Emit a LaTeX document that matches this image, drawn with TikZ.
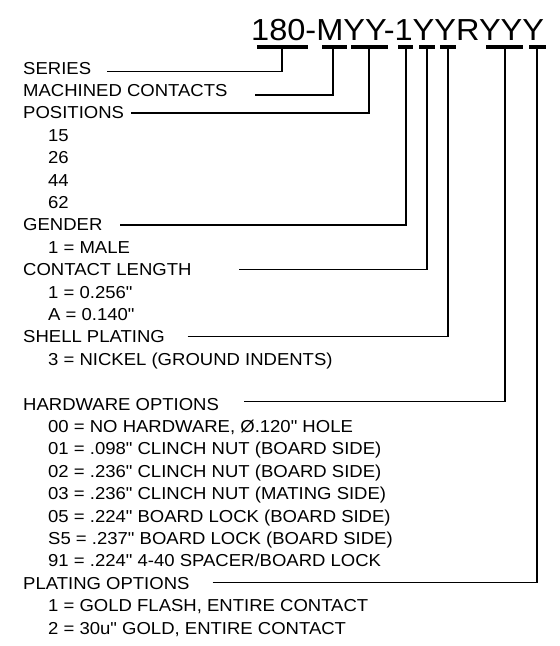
\documentclass[tikz,border=0pt]{standalone}
\usepackage{fontspec}
\newfontfamily\lib{Liberation Sans}[FakeStretch=1.07]
\begin{document}
\begin{tikzpicture}[x=1pt,y=-1pt,
  lbl/.style={anchor=base west, inner sep=0pt, font=\lib\fontsize{17.3}{19}\selectfont},
  ttl/.style={anchor=base west, inner sep=0pt, font=\lib\fontsize{30.4}{32}\selectfont},
  bar/.style={line width=3.2pt},
  conn/.style={line width=1.6pt, line join=miter}]
\useasboundingbox (0,0) rectangle (560,646);
% title
\node[ttl] (title) at (251,40) {180-MYY-1YYRYYY};
% bars
\draw[bar] (257,47) -- (308,47);
\draw[bar] (322,47) -- (347,47);
\draw[bar] (351,47) -- (388,47);
\draw[bar] (398,47) -- (413,47);
\draw[bar] (419,47) -- (435,47);
\draw[bar] (440,47) -- (456,47);
\draw[bar] (486,47) -- (523,47);
\draw[bar] (529,47) -- (546,47);
\coordinate (b1) at (282,47);
\coordinate (b2) at (333,47);
\coordinate (b3) at (369,47);
\coordinate (b4) at (406,47);
\coordinate (b5) at (427,47);
\coordinate (b6) at (448,47);
\coordinate (b7) at (505,47);
\coordinate (b8) at (537,47);
% labels
\node[lbl] (h0) at (23,74.0) {SERIES};
\node[lbl] (h1) at (23,96.4) {MACHINED CONTACTS};
\node[lbl] (h2) at (23,118.8) {POSITIONS};
\node[lbl] (v3) at (48,141.2) {15};
\node[lbl] (v4) at (48,163.6) {26};
\node[lbl] (v5) at (48,186.0) {44};
\node[lbl] (v6) at (48,208.4) {62};
\node[lbl] (h7) at (23,230.8) {GENDER};
\node[lbl] (v8) at (48,253.2) {1 = MALE};
\node[lbl] (h9) at (23,275.6) {CONTACT LENGTH};
\node[lbl] (v10) at (48,298.0) {1 = 0.256"};
\node[lbl] (v11) at (48,320.4) {A = 0.140"};
\node[lbl] (h12) at (23,342.8) {SHELL PLATING};
\node[lbl] (v13) at (48,365.2) {3 = NICKEL (GROUND INDENTS)};
\node[lbl] (h15) at (23,410.0) {HARDWARE OPTIONS};
\node[lbl] (v16) at (48,432.4) {00 = NO HARDWARE, Ø.120" HOLE};
\node[lbl] (v17) at (48,454.8) {01 = .098" CLINCH NUT (BOARD SIDE)};
\node[lbl] (v18) at (48,477.2) {02 = .236" CLINCH NUT (BOARD SIDE)};
\node[lbl] (v19) at (48,499.6) {03 = .236" CLINCH NUT (MATING SIDE)};
\node[lbl] (v20) at (48,522.0) {05 = .224" BOARD LOCK (BOARD SIDE)};
\node[lbl] (v21) at (48,544.4) {S5 = .237" BOARD LOCK (BOARD SIDE)};
\node[lbl] (v22) at (48,566.8) {91 = .224" 4-40 SPACER/BOARD LOCK};
\node[lbl] (h23) at (23,589.2) {PLATING OPTIONS};
\node[lbl] (v24) at (48,611.6) {1 = GOLD FLASH, ENTIRE CONTACT};
\node[lbl] (v25) at (48,634.0) {2 = 30u" GOLD, ENTIRE CONTACT};
% connector starts
\coordinate (s1) at (107,71.5);
\coordinate (s2) at (255,95);
\coordinate (s3) at (131,113);
\coordinate (s4) at (120,225);
\coordinate (s5) at (239,269.5);
\coordinate (s6) at (187.5,336.5);
\coordinate (s7) at (244,401.5);
\coordinate (s8) at (212.5,582.5);
% connectors
\draw[conn] (s1) -| (b1);
\draw[conn] (s2) -| (b2);
\draw[conn] (s3) -| (b3);
\draw[conn] (s4) -| (b4);
\draw[conn] (s5) -| (b5);
\draw[conn] (s6) -| (b6);
\draw[conn] (s7) -| (b7);
\draw[conn] (s8) -| (b8);
\end{tikzpicture}
\end{document}
